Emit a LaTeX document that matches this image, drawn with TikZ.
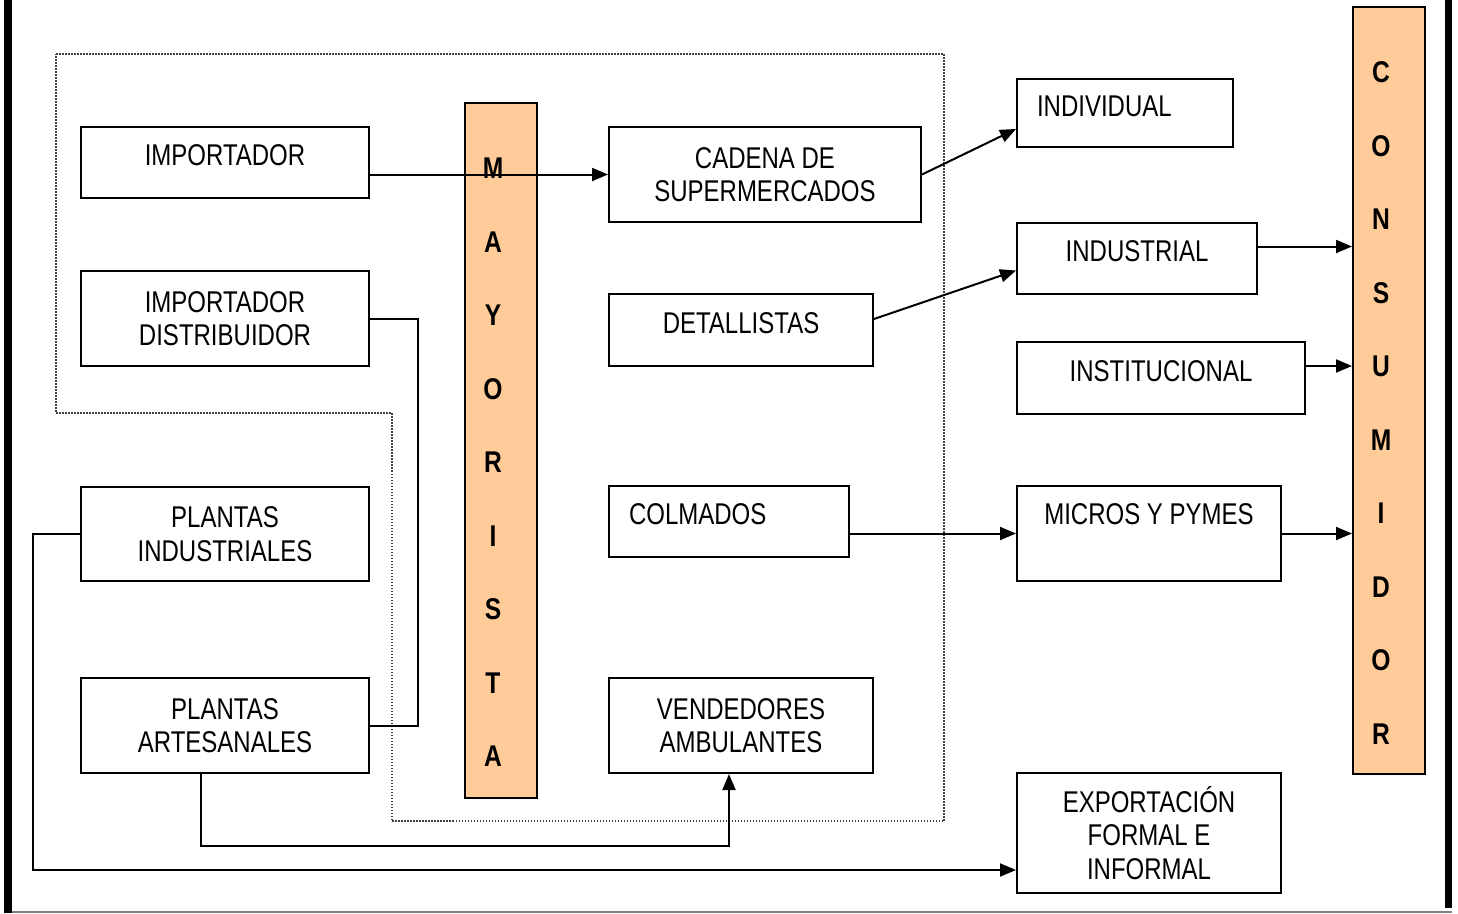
\documentclass[tikz,border=0pt]{standalone}
\usepackage{fontspec}
\setmainfont{Liberation Sans}[FakeStretch=0.8]
\newfontfamily\barfont{Liberation Sans}[FakeStretch=0.82]
\usetikzlibrary{arrows.meta}
\definecolor{peach}{HTML}{FFCC99}

\begin{document}
\begin{tikzpicture}[x=1pt, y=-1pt,
    box/.style={rectangle, draw, line width=2pt, anchor=north west, inner sep=0pt, align=center, font=\fontsize{30}{33.5}\selectfont},
    one/.style={text height=21.5pt, text depth=15pt},
    bar/.style={rectangle, draw, line width=2pt, fill=peach, anchor=north west, inner sep=0pt, minimum width=72pt},
    letter/.style={font=\barfont\bfseries\fontsize{30}{32}\selectfont, inner sep=0pt, text height=21.5pt, text depth=0pt},
    wire/.style={line width=2pt},
    flow/.style={line width=2pt, -{Triangle[length=16pt,width=13pt]}}]
    \useasboundingbox (0,0) rectangle (1458,913);
    % page frame
    \fill (4,0) rectangle (12,913);
    \fill (1445,0) rectangle (1452,908);
    \draw[gray, line width=2pt] (12,911.5) -- (1452,911.5);
    % dotted area
    \draw[line width=1.5pt, dash pattern=on 1.5pt off 1.5pt, black!75]
        (56,54) -- (944,54) -- (944,821) -- (392,821) -- (392,413) -- (56,413) -- cycle;
    % left column
    \node[box, one, minimum width=288pt, minimum height=71pt] (imp) at (80,126) {IMPORTADOR};
    \node[box, minimum width=288pt, minimum height=95pt] (dist) at (80,270) {IMPORTADOR\\DISTRIBUIDOR};
    \node[box, minimum width=288pt, minimum height=94pt] (pind) at (80,486) {PLANTAS\\INDUSTRIALES};
    \node[box, minimum width=288pt, minimum height=95pt] (part) at (80,677) {PLANTAS\\ARTESANALES};
    % middle column
    \node[box, minimum width=312pt, minimum height=95pt] (cad) at (608,126) {CADENA DE\\SUPERMERCADOS};
    \node[box, one, minimum width=264pt, minimum height=72pt] (det) at (608,293) {DETALLISTAS};
    \node[box, one, align=left, text width=200pt, inner xsep=20pt, minimum height=71pt] (colm) at (608,485) {COLMADOS};
    \node[box, minimum width=264pt, minimum height=95pt] (vend) at (608,677) {VENDEDORES\\AMBULANTES};
    % right column
    \node[box, one, align=left, text width=176pt, inner xsep=20pt, minimum height=68pt] (indiv) at (1016,78) {INDIVIDUAL};
    \node[box, one, minimum width=240pt, minimum height=71pt] (indus) at (1016,222) {INDUSTRIAL};
    \node[box, one, minimum width=288pt, minimum height=72pt] (inst) at (1016,341) {INSTITUCIONAL};
    \node[box, one, text depth=39pt, minimum width=264pt, minimum height=95pt] (micro) at (1016,485) {MICROS Y PYMES};
    \node[box, minimum width=264pt, minimum height=120pt] (expo) at (1016,772) {EXPORTACIÓN\\FORMAL E\\INFORMAL};
    % bars
    \node[bar, minimum height=695pt] (may) at (464,102) {};
    \node[bar, minimum height=767pt] (cons) at (1352,6) {};
    \foreach \l [count=\i from 0] in {M,A,Y,O,R,I,S,T,A}
        \node[letter] (may\i) at (493,168+73.5*\i) {\l};
    \foreach \l [count=\i from 0] in {C,O,N,S,U,M,I,D,O,R}
        \node[letter] (cons\i) at (1381,72+73.5*\i) {\l};
    % connectors
    \draw[flow] (imp.east |- cad.west) -- (cad.west);
    \draw[wire] (dist.east) -- ++(48,0) |- (part.east);
    \draw[flow] (pind.west) -- ++(-47,0) |- ([yshift=24pt]expo.south west);
    \draw[flow] ([xshift=-24pt]part.south) -- ++(0,72) -| ([xshift=-12pt]vend.south);
    \draw[flow] (cad.east) -- ([yshift=-16pt]indiv.west);
    \draw[flow] ([yshift=11pt]det.east) -- ([yshift=-12pt]indus.west);
    \draw[flow] (colm.east |- micro.west) -- (micro.west);
    \path ([yshift=12pt]indus.east) coordinate (p1) ([yshift=12pt]inst.east) coordinate (p2);
    \draw[flow] (p1) -- (p1 -| cons.west);
    \draw[flow] (p2) -- (p2 -| cons.west);
    \draw[flow] (micro.east) -- (micro.east -| cons.west);
\end{tikzpicture}
\end{document}
